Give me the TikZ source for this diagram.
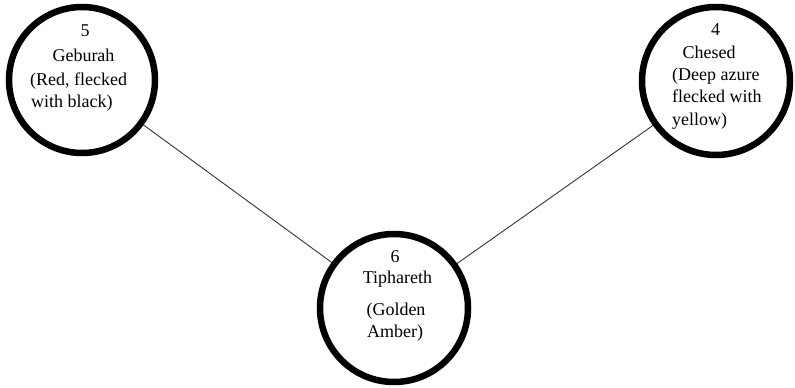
\documentclass[tikz,border=0pt]{standalone}
\usepackage{fontspec}
\setmainfont{Liberation Serif}
\begin{document}
\begin{tikzpicture}[x=1pt,y=-1pt,
  sephira/.style={circle, draw=black, line width=6.5pt, fill=white,
    minimum size=148pt, inner sep=0pt},
  path link/.style={draw=black!80, line width=0.9pt},
  txt/.style={inner sep=0pt, font=\fontsize{18}{22}\selectfont, text=black}]
  \useasboundingbox (0,0) rectangle (795,388);

  % connecting paths (drawn first, circles sit on top)
  \coordinate (cG) at (82,80);
  \coordinate (cC) at (716,81);
  \coordinate (cT) at (394,308);
  \draw[path link] (cG) -- (cT);
  \draw[path link] (cT) -- (cC);

  % the three spheres
  \node[sephira, minimum size=146pt] (geburah) at (cG) {};
  \node[sephira] (chesed) at (cC) {};
  \node[sephira] (tiphareth) at (cT) {};

  % 5 - Geburah
  \node[txt, anchor=base] (g1) at (85,36) {5};
  \node[txt, anchor=base] (g2) at (83.5,61) {Geburah};
  \node[txt, anchor=base west] (g3) at (30,85) {(Red, flecked};
  \node[txt, anchor=base west] (g4) at (31,107) {with black)};

  % 4 - Chesed
  \node[txt, anchor=base] (c1) at (715.5,35) {4};
  \node[txt, anchor=base] (c2) at (709,58) {Chesed};
  \node[txt, anchor=base west] (c3) at (672,80) {(Deep azure};
  \node[txt, anchor=base west] (c4) at (672,102) {flecked with};
  \node[txt, anchor=base west] (c5) at (672,125) {yellow)};

  % 6 - Tiphareth
  \node[txt, anchor=base] (t1) at (395,262) {6};
  \node[txt, anchor=base] (t2) at (397.5,283) {Tiphareth};
  \node[txt, anchor=base] (t3) at (396,315) {(Golden};
  \node[txt, anchor=base] (t4) at (395,337) {Amber)};
\end{tikzpicture}
\end{document}
